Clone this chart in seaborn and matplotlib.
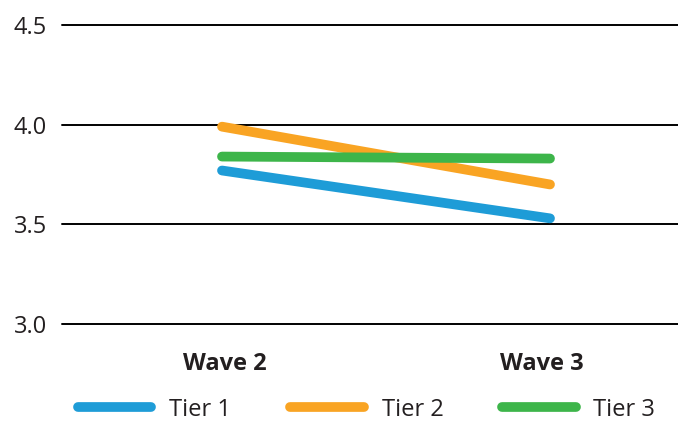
import matplotlib
matplotlib.use("Agg")
import matplotlib.pyplot as plt
import matplotlib.transforms as mtransforms
import seaborn as sns
import pandas as pd

# Mean scores per tier across survey waves
waves = ["Wave 2", "Wave 3"]
tiers = ["Tier 1", "Tier 2", "Tier 3"]
tier1 = [3.77, 3.53]
tier2 = [3.99, 3.70]
tier3 = [3.84, 3.83]
y_ticks = [3.0, 3.5, 4.0, 4.5]
y_tick_labels = ["3.0", "3.5", "4.0", "4.5"]

colors = {"Tier 1": "#1e9cd7", "Tier 2": "#f9a423", "Tier 3": "#3db54a"}
text_color = "#231f20"

rows = []
for tier, vals in zip(tiers, [tier1, tier2, tier3]):
    for i, (w, v) in enumerate(zip(waves, vals)):
        rows.append({"pos": i, "wave": w, "tier": tier, "score": v})
df = pd.DataFrame(rows)

sns.set_theme(style="white")
plt.rcParams["font.family"] = ["Open Sans", "DejaVu Sans"]

fig = plt.figure(figsize=(6.78, 4.21), dpi=100)
ax = fig.add_axes([62 / 678, 1 - 324 / 421, 616 / 678, 299 / 421])

sns.lineplot(data=df, x="pos", y="score", hue="tier", palette=colors,
             linewidth=7, solid_capstyle="round", ax=ax, legend=True,
             zorder=3)

ax.set_ylim(3.0, 4.5)
ax.set_xlim((62 - 222) / 328, (678 - 222) / 328)
ax.set_yticks(y_ticks)
ax.set_yticklabels(y_tick_labels)
ax.set_xticks(range(len(waves)))
ax.set_xticklabels(waves, fontweight="bold")
ax.tick_params(axis="y", length=0, pad=11, labelsize=17, labelcolor=text_color)
ax.tick_params(axis="x", length=0, pad=20, labelsize=17, labelcolor=text_color)
ax.set_xlabel("")
ax.set_ylabel("")
for s in ax.spines.values():
    s.set_visible(False)

# nudge the wave labels slightly toward the centre
for lbl, dx in zip(ax.get_xticklabels(), [3, -8]):
    lbl.set_transform(lbl.get_transform() +
                      mtransforms.ScaledTranslation(dx / 100, 0, fig.dpi_scale_trans))

ax.yaxis.grid(True, color="black", linewidth=1.4)
ax.set_axisbelow(True)
for gl in ax.get_ygridlines():
    gl.set_clip_on(False)

handles, labels = ax.get_legend_handles_labels()
ax.get_legend().remove()
leg = fig.legend(handles, labels, loc="center", bbox_to_anchor=(0.541, 0.027),
                 ncol=3, frameon=False, fontsize=17, handlelength=3.1,
                 handletextpad=0.76, columnspacing=2.5, borderaxespad=0,
                 labelcolor=text_color)
for line in leg.get_lines():
    line.set_solid_capstyle("round")
    line.set_linewidth(7)

fig.savefig("out.png", dpi=100)
